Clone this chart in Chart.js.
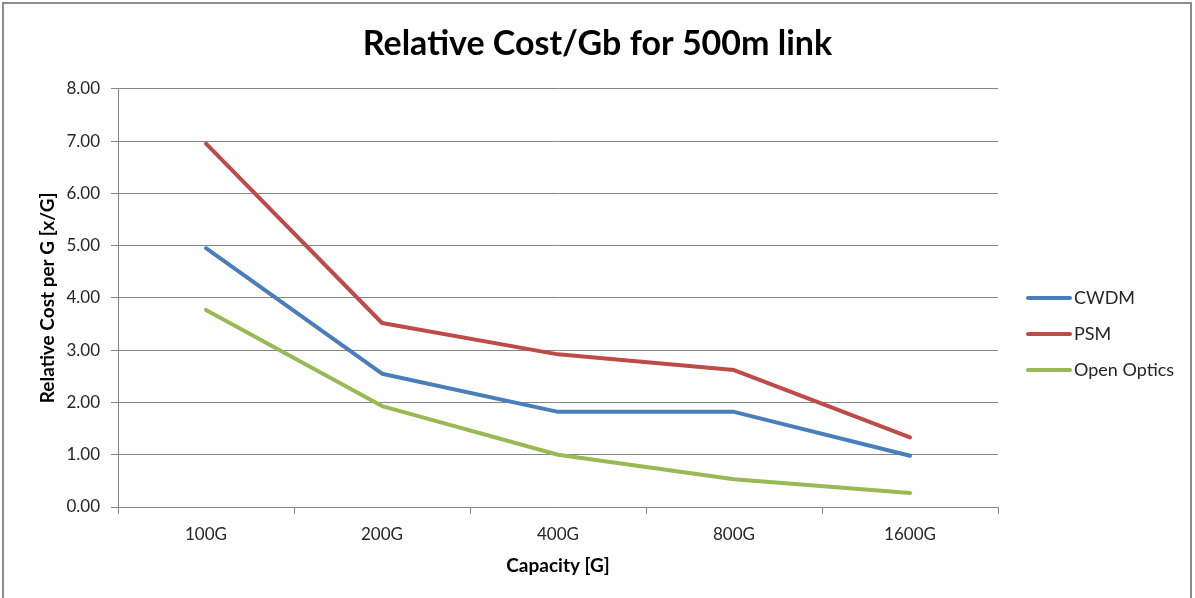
<!DOCTYPE html>
<html>
<head>
<meta charset="utf-8">
<script src="https://cdn.jsdelivr.net/npm/chart.js@4.4.1/dist/chart.umd.min.js"></script>
<style>
  html, body { margin: 0; padding: 0; background: #ffffff; overflow: hidden; }
  #wrap { position: relative; width: 1195px; height: 598px; }
  #frame { position: absolute; left: 2px; top: 2px; width: 1190px; height: 700px;
           border: 2px solid #8c8c8c; box-sizing: border-box; pointer-events: none; }
  canvas { position: absolute; left: 0; top: 0; }
</style>
</head>
<body>
<div id="wrap">
  <canvas id="chart" width="1195" height="598"></canvas>
  <div id="frame"></div>
</div>
<script>
// Capacity categories along the x axis
const categories = ['100G', '200G', '400G', '800G', '1600G'];

// Relative cost per Gb for a 500 m link
const cwdm = [4.95, 2.55, 1.82, 1.82, 0.98];
const psm = [6.95, 3.52, 2.92, 2.62, 1.33];
const openOptics = [3.77, 1.93, 1.00, 0.53, 0.27];

const seriesNames = ['CWDM', 'PSM', 'Open Optics'];
const seriesColors = ['#4a7ebb', '#be4b48', '#98b954'];

const FONT = 'Lato, "Open Sans", "Liberation Sans", sans-serif';
const GRID = '#868686';

// Legend drawn to the right of the plot: line swatch followed by the name
const sideLegend = {
  id: 'sideLegend',
  afterDraw(chart) {
    const ctx = chart.ctx;
    const x0 = 1028, x1 = 1070, textX = 1074;
    const y0 = 298, step = 36;
    ctx.save();
    chart.data.datasets.forEach((ds, i) => {
      const y = y0 + i * step;
      ctx.strokeStyle = ds.borderColor;
      ctx.lineWidth = 4;
      ctx.lineCap = 'round';
      ctx.beginPath();
      ctx.moveTo(x0, y);
      ctx.lineTo(x1, y);
      ctx.stroke();
      ctx.fillStyle = '#262626';
      ctx.font = '18px ' + FONT;
      ctx.textAlign = 'left';
      ctx.textBaseline = 'middle';
      ctx.fillText(ds.label, textX, y);
    });
    ctx.restore();
  }
};

const values = [cwdm, psm, openOptics];

new Chart(document.getElementById('chart'), {
  type: 'line',
  data: {
    labels: categories,
    datasets: values.map((v, i) => ({
      label: seriesNames[i],
      data: v,
      borderColor: seriesColors[i],
      backgroundColor: seriesColors[i],
      borderWidth: 4,
      borderCapStyle: 'round',
      borderJoinStyle: 'round',
      pointRadius: 0,
      pointHoverRadius: 0,
      tension: 0,
      fill: false
    }))
  },
  options: {
    responsive: false,
    animation: false,
    devicePixelRatio: 1,
    layout: { padding: 0 },
    plugins: {
      legend: { display: false },
      tooltip: { enabled: false },
      title: {
        display: true,
        text: 'Relative Cost/Gb for 500m link',
        color: '#000000',
        font: { family: FONT, size: 34, weight: 'bold' },
        padding: { top: 24, bottom: 24 }
      }
    },
    scales: {
      x: {
        offset: true,
        afterFit(scale) { scale.height = 91; },
        grid: {
          display: true,
          offset: true,
          drawOnChartArea: false,
          drawTicks: true,
          tickLength: 7,
          color: GRID,
          lineWidth: 1
        },
        border: { display: true, color: GRID, width: 1 },
        ticks: {
          color: '#262626',
          font: { family: FONT, size: 17 },
          padding: 10,
          maxRotation: 0
        },
        title: {
          display: true,
          text: 'Capacity [G]',
          color: '#000000',
          font: { family: FONT, size: 19, weight: 'bold' },
          padding: { top: 0, bottom: 21 }
        }
      },
      y: {
        min: 0,
        max: 8,
        afterFit(scale) { scale.width = 118; },
        grid: {
          color: GRID,
          lineWidth: 1,
          drawTicks: true,
          tickLength: 7
        },
        border: { display: true, color: GRID, width: 1 },
        ticks: {
          stepSize: 1,
          color: '#262626',
          font: { family: FONT, size: 17 },
          padding: 11,
          callback: v => Number(v).toFixed(2)
        },
        title: {
          display: true,
          text: 'Relative Cost per G [x/G]',
          color: '#000000',
          font: { family: FONT, size: 19, weight: 'bold' },
          padding: { top: 36, bottom: 0 }
        }
      },
      // empty right-hand scale reserving the room where the legend sits
      legendSpace: {
        type: 'linear',
        position: 'right',
        min: 0,
        max: 8,
        afterFit(scale) { scale.width = 197; },
        grid: { display: false, drawTicks: false },
        border: { display: false },
        ticks: { display: false },
        title: { display: false }
      }
    }
  },
  plugins: [sideLegend]
});
</script>
</body>
</html>
